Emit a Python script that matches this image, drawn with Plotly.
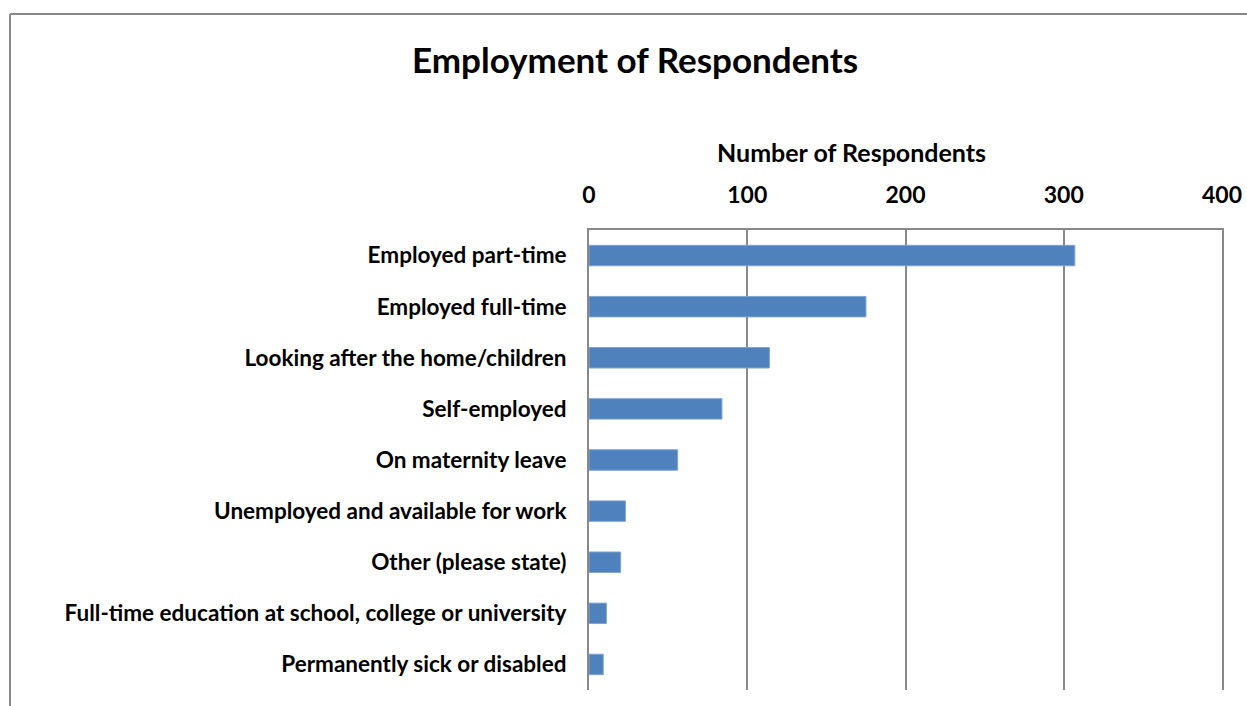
import plotly.graph_objects as go

# Employment status of survey respondents
categories = [
    "Employed part-time",
    "Employed full-time",
    "Looking after the home/children",
    "Self-employed",
    "On maternity leave",
    "Unemployed and available for work",
    "Other (please state)",
    "Full-time education at school, college or university",
    "Permanently sick or disabled",
]
respondents = [307, 175, 114, 84, 56, 23, 20, 11, 9]
x_ticks = [0, 100, 200, 300, 400]

W, H = 1247, 706
L, R, T, B = 589, 25, 230, 16
pw, ph = W - L - R, H - T - B

def px_x(p):
    return (p - L) / pw

def px_y(p):
    return (H - B - p) / ph

FONT = "Lato"
GRID = "#898989"

fig = go.Figure(
    go.Bar(
        x=respondents,
        y=categories,
        orientation="h",
        width=0.4,
        marker=dict(color="#4f81bd", line=dict(color="#7ea2d3", width=1)),
    )
)

fig.update_layout(
    width=W,
    height=H,
    margin=dict(l=L, r=R, t=T, b=B, autoexpand=False),
    paper_bgcolor="white",
    plot_bgcolor="white",
    showlegend=False,
    font=dict(family=FONT, color="black"),
    xaxis=dict(
        side="top",
        range=[0, 400],
        tickvals=x_ticks,
        ticktext=[str(v) for v in x_ticks],
        showgrid=True,
        gridcolor=GRID,
        gridwidth=1.5,
        zeroline=False,
        showline=True,
        linecolor=GRID,
        linewidth=2,
        ticks="outside",
        ticklen=16,
        tickcolor="rgba(0,0,0,0)",
        automargin=False,
        tickfont=dict(family=FONT, size=23, color="black", weight="bold"),
    ),
    yaxis=dict(
        autorange="reversed",
        showgrid=False,
        zeroline=False,
        showline=True,
        mirror=True,
        linecolor=GRID,
        linewidth=2,
        ticks="outside",
        ticklen=16,
        tickcolor="rgba(0,0,0,0)",
        automargin=False,
        tickfont=dict(family=FONT, size=22.5, color="black", weight="bold"),
    ),
    annotations=[
        dict(
            text="<b>Employment of Respondents</b>",
            xref="paper", yref="paper",
            x=px_x(635), y=px_y(59),
            xanchor="center", yanchor="middle",
            showarrow=False,
            font=dict(family=FONT, size=35, color="black"),
        ),
        dict(
            text="<b>Number of Respondents</b>",
            xref="paper", yref="paper",
            x=px_x(851), y=px_y(152),
            xanchor="center", yanchor="middle",
            showarrow=False,
            font=dict(family=FONT, size=25, color="black"),
        ),
    ],
    shapes=[
        dict(type="line", xref="paper", yref="paper",
             x0=px_x(10), x1=px_x(10), y0=px_y(14), y1=px_y(H + 5),
             line=dict(color=GRID, width=2)),
        dict(type="line", xref="paper", yref="paper",
             x0=px_x(10), x1=px_x(W + 5), y0=px_y(14), y1=px_y(14),
             line=dict(color=GRID, width=2)),
    ],
)

fig.write_html("out.html")
